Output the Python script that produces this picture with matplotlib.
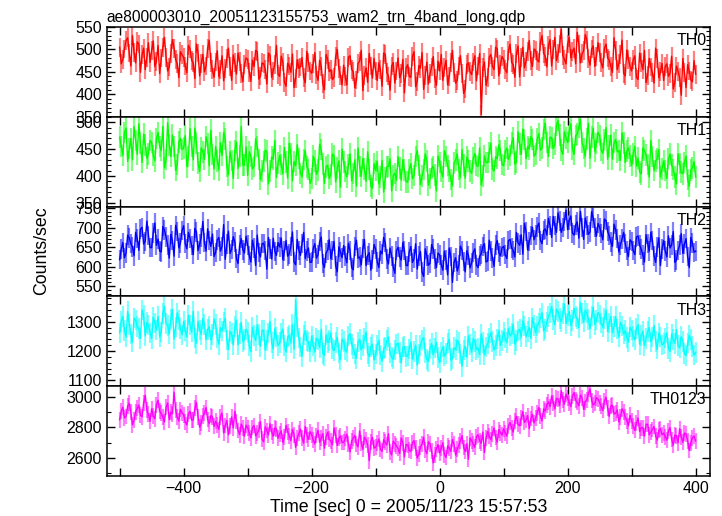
import numpy as np
import matplotlib
matplotlib.use("Agg")
import matplotlib.pyplot as plt
from matplotlib.ticker import MultipleLocator, FuncFormatter

plt.rcParams['font.family'] = ['Liberation Sans', 'DejaVu Sans']

title = "ae800003010_20051123155753_wam2_trn_4band_long.qdp"
xlabel = "Time [sec] 0 = 2005/11/23 15:57:53"
ylabel = "Counts/sec"
band_names = ["TH0", "TH1", "TH2", "TH3", "TH0123"]

# time bins (sec): values read at the whole-5s bins ("a") and the half-way bins ("b")
time_a = np.arange(-500, 405, 5)
time_b = np.arange(-497.5, 400, 5)

th0_a = [505, 478, 520, 492, 531, 470, 512, 488, 455, 515,
         498, 462, 509, 481, 527, 452, 490, 503, 468, 495,
         482, 448, 501, 470, 512, 441, 489, 463, 520, 455,
         472, 439, 486, 458, 503, 431, 470, 492, 447, 466,
         478, 429, 462, 495, 441, 468, 423, 487, 452, 509,
         440, 472, 418, 463, 490, 435, 458, 482, 426, 471,
         447, 493, 431, 462, 410, 478, 455, 438, 500, 442,
         465, 421, 486, 450, 432, 474, 408, 459, 491, 436,
         452, 470, 418, 489, 441, 463, 425, 481, 447, 403,
         466, 438, 495, 429, 458, 411, 472, 446, 484, 420,
         452, 431, 476, 440, 498, 425, 463, 447, 412, 470,
         444, 486, 463, 355, 472, 437, 489, 455, 501, 466,
         478, 448, 512, 466, 491, 439, 505, 474, 520, 462,
         498, 472, 531, 485, 509, 463, 527, 490, 545, 478,
         512, 481, 503, 538, 470, 497, 521, 465, 508, 484,
         493, 459, 512, 476, 449, 498, 469, 521, 441, 478,
         452, 486, 433, 470, 498, 442, 461, 425, 479, 450,
         431, 468, 447, 412, 463, 437, 480, 415, 452, 428,
         445]
th0_b = [468, 501, 526, 463, 494, 517, 449, 503, 482, 471,
         519, 474, 446, 505, 483, 461, 522, 477, 437, 488,
         463, 509, 476, 435, 492, 468, 450, 503, 471, 438,
         497, 456, 430, 479, 462, 488, 445, 473, 428, 481,
         449, 476, 498, 434, 470, 456, 492, 438, 467, 445,
         485, 427, 469, 449, 415, 477, 461, 437, 496, 452,
         468, 443, 476, 424, 489, 451, 433, 484, 458, 421,
         439, 483, 456, 415, 469, 498, 442, 427, 463, 480,
         431, 455, 492, 448, 409, 471, 452, 437, 478, 459,
         440, 485, 417, 464, 493, 442, 423, 461, 435, 474,
         489, 459, 421, 470, 448, 431, 486, 402, 467, 450,
         472, 430, 491, 459, 420, 483, 462, 505, 441, 484,
         455, 497, 471, 438, 508, 482, 459, 496, 475, 501,
         476, 517, 491, 461, 522, 499, 475, 512, 486, 468,
         527, 495, 468, 512, 490, 533, 479, 501, 462, 515,
         470, 503, 481, 462, 526, 455, 488, 447, 499, 462,
         477, 438, 492, 455, 426, 480, 448, 503, 437, 469,
         462, 440, 485, 427, 451, 398, 449, 466, 432, 475]

th1_a = [472, 438, 489, 451, 430, 466, 497, 425, 458, 441,
         462, 428, 481, 447, 415, 499, 436, 455, 421, 470,
         452, 417, 488, 430, 461, 408, 445, 473, 419, 440,
         455, 411, 438, 469, 402, 429, 447, 414, 492, 420,
         401, 436, 418, 455, 393, 427, 446, 409, 431, 397,
         438, 404, 426, 461, 391, 419, 432, 398, 447, 412,
         395, 428, 411, 449, 386, 420, 403, 437, 415, 379,
         426, 398, 441, 405, 381, 418, 432, 390, 412, 377,
         410, 385, 429, 396, 418, 372, 405, 436, 392, 411,
         389, 423, 401, 447, 384, 412, 428, 395, 418, 372,
         425, 398, 436, 409, 381, 430, 412, 449, 396, 428,
         405, 442, 418, 383, 437, 425, 461, 409, 432, 447,
         419, 452, 438, 471, 426, 459, 487, 432, 450, 468,
         441, 479, 452, 498, 436, 471, 459, 503, 448, 482,
         462, 497, 440, 478, 505, 451, 469, 433, 488, 460,
         475, 442, 490, 456, 431, 468, 447, 480, 425, 452,
         419, 455, 433, 404, 447, 421, 466, 410, 432, 398,
         428, 395, 441, 412, 385, 423, 404, 437, 381, 415,
         398]
th1_b = [455, 481, 427, 470, 492, 440, 461, 478, 433, 466,
         438, 470, 455, 492, 431, 458, 476, 410, 463, 449,
         475, 436, 455, 489, 424, 452, 431, 460, 485, 413,
         428, 462, 481, 418, 445, 395, 463, 437, 420, 454,
         445, 413, 469, 431, 409, 448, 385, 435, 466, 424,
         421, 453, 396, 441, 427, 458, 405, 431, 417, 386,
         437, 403, 459, 422, 417, 395, 441, 389, 428, 450,
         408, 421, 391, 430, 452, 399, 413, 445, 381, 423,
         427, 398, 370, 417, 432, 401, 392, 415, 430, 389,
         412, 395, 436, 419, 400, 441, 383, 414, 402, 437,
         408, 447, 419, 393, 424, 441, 397, 420, 435, 409,
         433, 419, 452, 400, 425, 444, 413, 436, 458, 421,
         446, 431, 461, 422, 482, 440, 468, 455, 473, 437,
         469, 448, 486, 462, 472, 451, 494, 476, 440, 471,
         483, 450, 475, 491, 462, 437, 498, 472, 446, 481,
         448, 467, 431, 476, 462, 445, 429, 461, 446, 437,
         442, 418, 407, 452, 439, 398, 436, 428, 449, 413,
         410, 432, 420, 398, 441, 407, 425, 393, 411, 427]

th2_a = [618, 662, 635, 674, 651, 688, 642, 701, 665, 680,
         649, 712, 671, 638, 694, 655, 683, 627, 690, 661,
         705, 646, 672, 631, 689, 658, 716, 640, 667, 684,
         637, 675, 652, 619, 691, 644, 663, 608, 672, 635,
         656, 612, 648, 681, 625, 660, 594, 646, 673, 629,
         651, 618, 667, 633, 689, 605, 642, 660, 621, 648,
         612, 659, 631, 676, 598, 643, 620, 665, 587, 638,
         654, 610, 641, 592, 668, 625, 647, 603, 636, 619,
         645, 598, 633, 662, 607, 628, 583, 650, 617, 641,
         603, 652, 621, 594, 639, 575, 628, 609, 646, 598,
         630, 591, 617, 648, 560, 623, 604, 642, 587, 629,
         610, 646, 598, 633, 659, 615, 640, 601, 667, 628,
         652, 621, 670, 641, 688, 655, 632, 690, 664, 701,
         681, 712, 659, 697, 724, 675, 705, 738, 688, 716,
         695, 730, 681, 715, 742, 670, 706, 689, 725, 678,
         701, 669, 718, 680, 652, 694, 638, 671, 659, 626,
         664, 631, 679, 645, 612, 660, 688, 628, 650, 603,
         667, 625, 648, 690, 617, 655, 634, 672, 598, 661,
         640]
th2_b = [645, 623, 681, 659, 628, 672, 696, 658, 717, 649,
         687, 655, 640, 703, 676, 622, 667, 706, 648, 693,
         659, 688, 654, 698, 641, 675, 662, 697, 652, 626,
         669, 640, 708, 658, 634, 677, 621, 655, 643, 678,
         629, 668, 603, 636, 659, 641, 675, 620, 639, 662,
         673, 640, 627, 652, 612, 670, 629, 688, 640, 611,
         647, 622, 664, 608, 635, 669, 641, 602, 651, 623,
         627, 660, 598, 652, 622, 605, 670, 629, 591, 657,
         612, 640, 675, 620, 648, 599, 641, 625, 662, 603,
         638, 611, 659, 627, 586, 646, 604, 657, 620, 635,
         605, 640, 579, 626, 611, 589, 653, 613, 641, 597,
         637, 604, 627, 652, 612, 668, 623, 655, 636, 649,
         631, 667, 648, 625, 661, 682, 711, 643, 680, 669,
         702, 667, 693, 681, 705, 729, 688, 717, 701, 745,
         719, 686, 707, 673, 701, 725, 683, 741, 700, 711,
         685, 722, 690, 663, 709, 672, 656, 688, 641, 669,
         641, 676, 655, 630, 682, 640, 667, 611, 674, 646,
         640, 679, 656, 611, 642, 685, 658, 626, 675, 637]

th3_a = [1262, 1318, 1247, 1291, 1230, 1305, 1276, 1340, 1251, 1288,
         1242, 1296, 1318, 1265, 1352, 1287, 1309, 1241, 1330, 1276,
         1301, 1248, 1289, 1335, 1226, 1272, 1310, 1239, 1283, 1256,
         1290, 1223, 1268, 1311, 1205, 1259, 1284, 1221, 1297, 1240,
         1263, 1198, 1252, 1289, 1216, 1270, 1235, 1301, 1208, 1247,
         1228, 1275, 1196, 1253, 1290, 1375, 1244, 1182, 1268, 1230,
         1251, 1196, 1238, 1274, 1185, 1229, 1262, 1201, 1247, 1170,
         1232, 1196, 1259, 1208, 1175, 1240, 1218, 1265, 1181, 1223,
         1190, 1236, 1165, 1212, 1248, 1179, 1203, 1226, 1160, 1215,
         1183, 1231, 1198, 1152, 1219, 1246, 1171, 1207, 1187, 1229,
         1160, 1213, 1192, 1240, 1174, 1205, 1228, 1148, 1216, 1251,
         1196, 1232, 1210, 1258, 1187, 1225, 1262, 1203, 1241, 1219,
         1265, 1228, 1251, 1290, 1236, 1274, 1302, 1249, 1281, 1313,
         1262, 1296, 1330, 1275, 1318, 1352, 1289, 1335, 1301, 1360,
         1320, 1287, 1345, 1311, 1366, 1298, 1329, 1276, 1348, 1305,
         1322, 1281, 1340, 1296, 1262, 1318, 1247, 1285, 1269, 1230,
         1271, 1238, 1290, 1252, 1219, 1266, 1231, 1287, 1206, 1248,
         1225, 1262, 1198, 1240, 1273, 1211, 1233, 1184, 1252, 1215,
         1195]
th3_b = [1301, 1269, 1335, 1258, 1312, 1283, 1243, 1320, 1297, 1262,
         1315, 1271, 1248, 1327, 1294, 1259, 1341, 1282, 1305, 1255,
         1270, 1322, 1264, 1245, 1301, 1257, 1291, 1273, 1238, 1309,
         1244, 1279, 1298, 1238, 1267, 1221, 1306, 1259, 1232, 1274,
         1218, 1281, 1236, 1257, 1270, 1203, 1262, 1228, 1276, 1219,
         1262, 1219, 1248, 1227, 1206, 1281, 1213, 1254, 1236, 1199,
         1218, 1243, 1212, 1191, 1255, 1236, 1208, 1229, 1193, 1240,
         1205, 1251, 1223, 1189, 1230, 1204, 1243, 1192, 1214, 1170,
         1219, 1187, 1208, 1235, 1193, 1172, 1224, 1194, 1213, 1182,
         1206, 1172, 1220, 1189, 1238, 1193, 1164, 1225, 1210, 1178,
         1197, 1183, 1227, 1168, 1211, 1236, 1190, 1204, 1179, 1222,
         1242, 1205, 1188, 1229, 1214, 1245, 1233, 1219, 1270, 1236,
         1244, 1276, 1259, 1223, 1268, 1247, 1285, 1266, 1243, 1287,
         1285, 1312, 1268, 1299, 1329, 1307, 1342, 1310, 1327, 1294,
         1335, 1303, 1318, 1279, 1327, 1340, 1308, 1319, 1291, 1331,
         1296, 1310, 1267, 1318, 1284, 1275, 1297, 1258, 1246, 1281,
         1250, 1276, 1223, 1268, 1242, 1280, 1247, 1232, 1261, 1221,
         1244, 1209, 1258, 1226, 1218, 1249, 1192, 1227, 1239, 1186]

th0123_a = [2850, 2932, 2871, 2958, 2817, 2903, 2946, 2869, 3010, 2885,
            2921, 2856, 2978, 2892, 2835, 2960, 2901, 3030, 2868, 2917,
            2882, 2815, 2906, 2848, 2963, 2801, 2872, 2930, 2824, 2868,
            2840, 2785, 2893, 2812, 2751, 2868, 2905, 2779, 2821, 2742,
            2797, 2731, 2812, 2760, 2838, 2705, 2779, 2823, 2742, 2790,
            2758, 2701, 2812, 2744, 2786, 2668, 2760, 2731, 2805, 2720,
            2752, 2690, 2781, 2727, 2663, 2768, 2710, 2795, 2681, 2743,
            2702, 2755, 2638, 2729, 2690, 2776, 2655, 2718, 2581, 2734,
            2670, 2723, 2642, 2701, 2758, 2619, 2693, 2661, 2730, 2605,
            2684, 2641, 2712, 2598, 2668, 2735, 2627, 2690, 2566, 2659,
            2631, 2698, 2602, 2665, 2720, 2618, 2684, 2745, 2641, 2590,
            2712, 2668, 2751, 2695, 2634, 2772, 2720, 2796, 2703, 2765,
            2790, 2742, 2831, 2769, 2872, 2810, 2903, 2846, 2791, 2885,
            2860, 2931, 2842, 2907, 2968, 3005, 2921, 2986, 3040, 2952,
            2990, 2935, 3028, 2964, 3012, 2918, 2981, 3052, 2946, 2995,
            2961, 2910, 2998, 2872, 2945, 2893, 2836, 2921, 2868, 2810,
            2842, 2780, 2861, 2797, 2742, 2820, 2768, 2805, 2716, 2790,
            2762, 2715, 2798, 2683, 2744, 2790, 2701, 2756, 2648, 2730,
            2710]
th0123_b = [2905, 2862, 2940, 2898, 2846, 2925, 2880, 2962, 2911, 2839,
            2874, 2948, 2905, 2866, 2931, 2850, 2889, 2912, 2841, 2895,
            2836, 2889, 2847, 2925, 2870, 2829, 2894, 2851, 2877, 2806,
            2815, 2870, 2763, 2845, 2806, 2795, 2838, 2752, 2798, 2814,
            2765, 2799, 2744, 2781, 2722, 2803, 2750, 2770, 2796, 2728,
            2776, 2735, 2769, 2712, 2752, 2729, 2788, 2696, 2748, 2771,
            2718, 2746, 2702, 2759, 2735, 2722, 2686, 2749, 2728, 2700,
            2726, 2689, 2711, 2747, 2671, 2698, 2735, 2684, 2706, 2663,
            2696, 2655, 2718, 2684, 2640, 2709, 2676, 2629, 2698, 2687,
            2650, 2698, 2663, 2626, 2690, 2651, 2705, 2642, 2617, 2686,
            2662, 2620, 2677, 2641, 2689, 2655, 2712, 2667, 2692, 2730,
            2689, 2738, 2712, 2768, 2727, 2742, 2758, 2733, 2785, 2749,
            2764, 2810, 2795, 2842, 2820, 2859, 2832, 2877, 2858, 2829,
            2896, 2874, 2921, 2948, 2935, 2962, 2990, 2943, 2979, 3018,
            2962, 3005, 2978, 2941, 2995, 2967, 3021, 2976, 2958, 2985,
            2938, 2972, 2925, 2940, 2887, 2915, 2868, 2902, 2844, 2879,
            2808, 2826, 2773, 2798, 2820, 2751, 2786, 2742, 2781, 2752,
            2738, 2776, 2720, 2749, 2698, 2735, 2762, 2711, 2699, 2743]

# typical 1-sigma error per bin (counts/sec)
errors = [21, 20, 25, 35, 52]

series = [(th0_a, th0_b), (th1_a, th1_b), (th2_a, th2_b),
          (th3_a, th3_b), (th0123_a, th0123_b)]
colors = ['#ff0000', '#00ff00', '#0000ff', '#00ffff', '#ff00ff']
ylims = [(350, 550), (343, 510), (524, 754), (1080, 1386), (2480, 3070)]
ymajor = [50, 50, 50, 100, 200]
yminor = [10, 10, 10, 20, 100]

fig = plt.figure(figsize=(7.22, 5.16), dpi=100)
fig.subplots_adjust(left=0.148, right=0.983, top=0.9477, bottom=0.0775, hspace=0)
axes = fig.subplots(5, 1, sharex=True)

t_all = np.concatenate([time_a, time_b])
order = np.argsort(t_all)
t_all = t_all[order]

for i, ax in enumerate(axes):
    ya, yb = series[i]
    y = np.concatenate([np.asarray(ya, float), np.asarray(yb, float)])[order]
    ax.errorbar(t_all, y, yerr=errors[i], fmt='none', ecolor=colors[i],
                alpha=0.5, elinewidth=1.6, capsize=0, zorder=1)
    ax.plot(t_all, y, color=colors[i], lw=1.0, zorder=2)
    ax.set_ylim(*ylims[i])
    ax.set_xlim(-520, 422)
    ax.yaxis.set_major_locator(MultipleLocator(ymajor[i]))
    ax.yaxis.set_minor_locator(MultipleLocator(yminor[i]))
    ax.xaxis.set_major_locator(MultipleLocator(100))
    ax.xaxis.set_major_formatter(FuncFormatter(
        lambda v, p: (f"{int(round(v))}".replace('-', '\u2212') if round(v) % 200 == 0 else "")))
    ax.tick_params(which='major', direction='in', length=6, width=1.0,
                   top=True, right=True, labelsize=11.5)
    ax.tick_params(which='minor', direction='in', length=3, width=0.8,
                   top=False, bottom=False, right=True, left=True)
    ax.tick_params(axis='x', which='minor', bottom=False, top=False)
    for s in ax.spines.values():
        s.set_linewidth(1.1)
    ax.text(0.995, 0.93, band_names[i], transform=ax.transAxes,
            ha='right', va='top', fontsize=11.5)
    if i < 4:
        ax.tick_params(labelbottom=False)

axes[0].set_title(title, loc='left', fontsize=11.2, pad=4)
axes[-1].set_xlabel(xlabel, fontsize=12.8, labelpad=2)
fig.text(0.058, 0.515, ylabel, rotation=90, ha='center', va='center', fontsize=12.8)

fig.savefig("out.png", dpi=100)
